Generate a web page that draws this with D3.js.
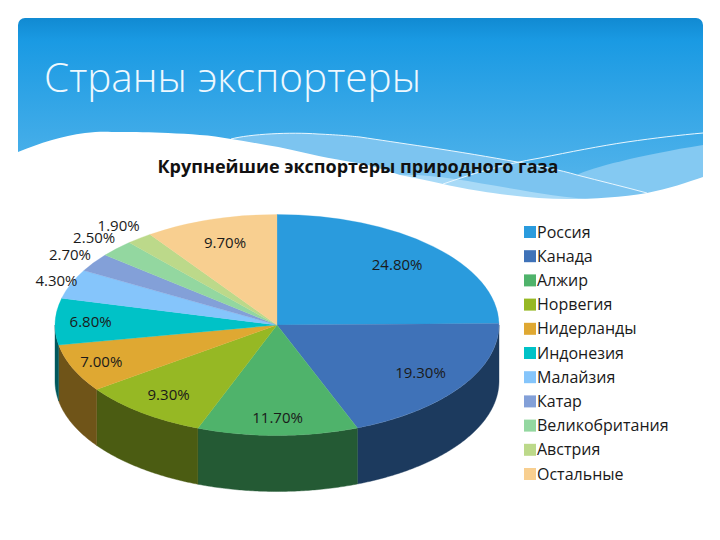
<!doctype html>
<html lang="ru">

<head>
	<meta charset="utf-8">
	<title>Страны экспортеры</title>
	<script src="https://cdn.jsdelivr.net/npm/d3@7/dist/d3.min.js"></script>
	<style>
		html, body { margin: 0; padding: 0; background: #fff; }
		svg { display: block; }
		text { font-family: "Open Sans", sans-serif; fill: #1a1a1a; }
	</style>
</head>

<body>
	<svg id="Slide" width="720" height="540"></svg>
	<script>
		var countries = ["Россия", "Канада", "Алжир", "Норвегия", "Нидерланды", "Индонезия", "Малайзия", "Катар", "Великобритания", "Австрия", "Остальные"];
		var shares = [24.8, 19.3, 11.7, 9.3, 7.0, 6.8, 4.3, 2.7, 2.5, 1.9, 9.7];
		var topColors = ["#2a9bdd", "#3f72b8", "#4fb36b", "#96b824", "#dfa832", "#00c2c7", "#85c5fb", "#83a0d8", "#93d7a0", "#bcd98a", "#f8cf90"];
		var wallColors = ["#1c3a5e", "#1c3a5e", "#245a34", "#4b5c12", "#6f5418", "#00585c", "#3a6a90", "#3a4f78", "#3f7050", "#5f7040", "#80683f"];

		// how far out each label sits, as a fraction of the pie radius
		var labelReach = [0.77, 0.78, 0.84, 0.8, 0.86, 0.84, 1.07, 1.13, 1.14, 1.15, 0.78];

		var svg = d3.select("#Slide");
		var defs = svg.append("defs");

		var grad = defs.append("linearGradient")
			.attr("id", "sky")
			.attr("x1", 0).attr("y1", 0)
			.attr("x2", 0).attr("y2", 1);
		grad.append("stop").attr("offset", "0").attr("stop-color", "#118ad2");
		grad.append("stop").attr("offset", "0.12").attr("stop-color", "#1a9ae3");
		grad.append("stop").attr("offset", "1").attr("stop-color", "#5cb8ec");

		defs.append("clipPath").attr("id", "headClip")
			.append("rect")
			.attr("x", 18).attr("y", 18)
			.attr("width", 685).attr("height", 300)
			.attr("rx", 7);

		var lineA = "M231,139 C250,134 290,132 318,134 C340,135 350,136 360,137 C380,140 400,143 427,147 C460,152 490,157 517,162 C540,166 560,170 577,175 C600,181 625,187 647,193";
		var lineB = "M443,184 C458,179 472,174 487,170 C505,165 522,161 540,158 C570,152 600,146 627,142 C655,138 680,135 703,133";

		// header band with the waves
		var head = svg.append("g").attr("clip-path", "url(#headClip)");
		head.append("rect")
			.attr("x", 18).attr("y", 18)
			.attr("width", 685).attr("height", 190)
			.attr("fill", "url(#sky)");
		head.append("path")
			.attr("d", "M577,175 C590,168 640,155 703,145 L703,205 L647,205 Z")
			.attr("fill", "#84c9f2");
		head.append("path")
			.attr("d", lineA + " L647,210 L231,210 Z")
			.attr("fill", "#7cc4f0");
		head.append("path")
			.attr("d", "M395,175 C450,172 520,195 600,200 L600,210 L395,210 Z")
			.attr("fill", "#a8daf7");
		head.append("path")
			.attr("d", lineA)
			.attr("fill", "none").attr("stroke", "#e8f6fe").attr("stroke-width", 1);
		head.append("path")
			.attr("d", lineB)
			.attr("fill", "none").attr("stroke", "#e8f6fe").attr("stroke-width", 1);
		head.append("path")
			.attr("d", "M18,152 C40,143 62,136 85,133 C100,131 110,132 118,132 C135,132 150,132 168,133 C190,134 210,135 231,139 C255,143 280,147 301,152 C325,158 348,161 368,165 C380,168 390,172 400,175 C415,178 430,181 443,184 C460,188 478,191 493,193 C520,197 545,199 567,199 C595,199 622,197 647,193 C668,189 688,182 703,177 L703,215 L18,215 Z")
			.attr("fill", "#fff");

		svg.append("text")
			.attr("x", 44).attr("y", 92)
			.attr("font-size", 40.5)
			.attr("font-weight", 300)
			.style("fill", "#eef8fe")
			.text("Страны экспортеры");

		svg.append("text")
			.attr("x", 358).attr("y", 173)
			.attr("text-anchor", "middle")
			.attr("font-size", 18)
			.attr("font-weight", 700)
			.style("fill", "#111")
			.text("Крупнейшие экспортеры природного газа");

		// pie
		var cx = 277, cy = 325, rx = 222, ry = 110.5, depth = 56;

		var slices = d3.pie().sort(null)(shares);
		var arc = d3.arc().innerRadius(0).outerRadius(rx);

		function ex(a) { return cx + rx * Math.sin(a); }
		function ey(a) { return cy - ry * Math.cos(a); }

		var wallArea = d3.area()
			.x(function (a) { return ex(a); })
			.y0(function (a) { return ey(a); })
			.y1(function (a) { return ey(a) + depth; });

		var walls = svg.append("g");
		slices.forEach(function (s, i) {
			var a0 = Math.max(s.startAngle, Math.PI / 2),
				a1 = Math.min(s.endAngle, Math.PI * 1.5);
			if (a1 <= a0) return;
			var steps = d3.range(a0, a1, 0.01).concat([a1]);
			walls.append("path")
				.attr("d", wallArea(steps))
				.attr("fill", wallColors[i])
				.attr("stroke", wallColors[i])
				.attr("stroke-width", 0.4);
		});

		var top3d = svg.append("g")
			.attr("transform", "translate(" + cx + "," + cy + ") scale(1," + (ry / rx) + ")");
		top3d.selectAll("path")
			.data(slices)
			.join("path")
			.attr("d", arc)
			.attr("fill", function (d, i) { return topColors[i]; })
			.attr("stroke", function (d, i) { return topColors[i]; })
			.attr("stroke-width", 0.4);

		svg.append("g").selectAll("text")
			.data(slices)
			.join("text")
			.attr("x", function (d, i) {
				return cx + rx * labelReach[i] * Math.sin((d.startAngle + d.endAngle) / 2);
			})
			.attr("y", function (d, i) {
				return cy - ry * labelReach[i] * Math.cos((d.startAngle + d.endAngle) / 2);
			})
			.attr("dy", "0.35em")
			.attr("text-anchor", "middle")
			.attr("font-size", 15)
			.text(function (d) { return d.value.toFixed(2) + "%"; });

		// legend
		var legendY = d3.scalePoint()
			.domain(countries)
			.range([232, 474]);

		var legend = svg.append("g").selectAll("g")
			.data(countries)
			.join("g")
			.attr("transform", function (d) { return "translate(524," + legendY(d) + ")"; });

		legend.append("rect")
			.attr("x", 0).attr("y", -6)
			.attr("width", 12).attr("height", 12)
			.attr("fill", function (d, i) { return topColors[i]; });

		legend.append("text")
			.attr("x", 13)
			.attr("dy", "0.35em")
			.attr("font-size", 16)
			.text(function (d) { return d; });
	</script>
</body>

</html>
